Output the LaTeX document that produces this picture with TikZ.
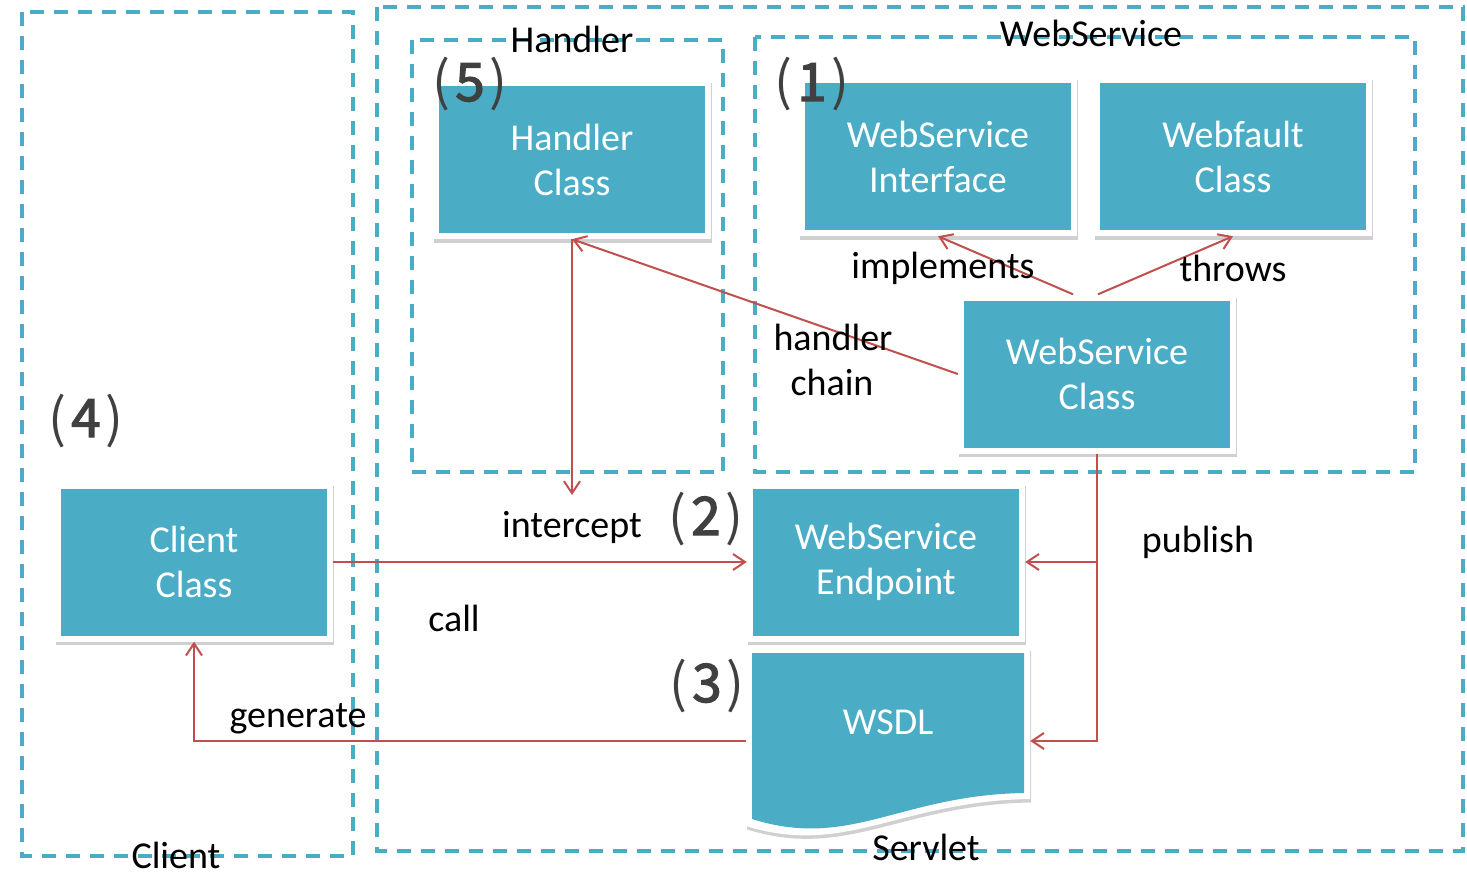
\documentclass[tikz,border=0pt]{standalone}
\usepackage{fontspec}
\setmainfont{Carlito}
\newfontfamily\cjkjp[FakeBold=2.5]{Noto Sans CJK JP}
\newfontfamily\cjkthin{Noto Sans CJK JP}
\usetikzlibrary{arrows.meta,shadows,calc}
\definecolor{teal4}{HTML}{4BACC6}
\definecolor{red4}{HTML}{C0504D}
\definecolor{numgray}{HTML}{404040}
\newcommand{\numtxt}[1]{{\cjkthin\fontsize{53}{53}\selectfont (}\hspace{5pt}{\cjkjp\fontsize{53}{53}\selectfont #1}\hspace{5pt}{\cjkthin\fontsize{53}{53}\selectfont )}}
\tikzset{
 frame/.style={draw=teal4, line width=3.5pt, dash pattern=on 14pt off 10pt},
 myshadow/.style={drop shadow={shadow xshift=1pt, shadow yshift=-3.5pt, opacity=0.3, fill=black!60}},
 box/.style={rectangle, fill=white, minimum width=278pt, minimum height=159pt, inner sep=0pt,
   text=white, align=center, font=\fontsize{38}{45}\selectfont, myshadow,
   path picture={\fill[teal4] ([shift={(6pt,6pt)}]path picture bounding box.south west) rectangle ([shift={(-6pt,-6pt)}]path picture bounding box.north east);}},
 lbl/.style={font=\fontsize{38}{45}\selectfont, text=black, anchor=base, inner sep=0pt},
 num/.style={text=numgray, anchor=base, inner sep=0pt},
 conn/.style={draw=red4, line width=2pt},
 arr/.style={conn, -{Straight Barb[length=12pt,width=16pt,line width=2pt]}}
}
\begin{document}
\begin{tikzpicture}[x=1pt,y=-1pt]
\useasboundingbox[fill=white] (0,0) rectangle (1467,888);
% frames
\draw[frame] (22,12) rectangle (353,856);
\draw[frame] (377,7) rectangle (1463,851);
\draw[frame] (412,40) rectangle (723,472);
\draw[frame] (755,37) rectangle (1415,472);
% frame labels
\node[lbl] (lclient) at (176,868) {Client};
\node[lbl] (lservlet) at (926,860) {Servlet};
\node[lbl] (lhandler) at (572,53) {Handler};
\node[lbl] (lws) at (1091,47) {WebService};
% boxes
\node[box] (hc) at (572,159.5) {Handler\\Class};
\node[box] (wsi) at (938,156.5) {WebService\\Interface};
\node[box] (wf) at (1233,156.5) {Webfault\\Class};
\node[box] (wsc) at (1097,374) {WebService\\Class};
\node[box] (ep) at (886,562) {WebService\\Endpoint};
\node[box] (cc) at (194,562) {Client\\Class};
% WSDL document shape
\path[fill=white, myshadow] (746,647) -- (1030,647) -- (1030,799) .. controls (900,801) and (846,857) .. (746,826) -- cycle;
\fill[teal4] (752,653) -- (1024,653) -- (1024,793) .. controls (900,795) and (850,850) .. (752,819) -- cycle;
\node[minimum width=284pt, minimum height=188pt, inner sep=0pt] (wsdl) at (888,741) {};
\node[text=white, font=\fontsize{38}{45}\selectfont, inner sep=0pt] (wsdltext) at (888,722) {WSDL};
% numbers
\node[num] (n5) at (470,101) {\numtxt{5}};
\node[num] (n1) at (812,101) {\numtxt{1}};
\node[num] (n4) at (86,437) {\numtxt{4}};
\node[num] (n2) at (706,535) {\numtxt{2}};
\node[num] (n3) at (707,702) {\numtxt{3}};
% connectors
\coordinate (icpt) at (572,495);
\draw[arr] ([xshift=-24pt]wsc.north) -- (wsi.south);
\draw[arr] ([xshift=1pt]wsc.north) -- (wf.south);
\draw[arr] (wsc.west) -- (hc.south);
\draw[arr] (hc.south) -- (icpt);
\draw[arr] (cc.east) -- (ep.west);
\draw[arr] (wsc.south) |- (wsdl.east);
\draw[arr] (wsc.south |- ep.east) -- (ep.east);
\draw[arr] (wsdl.west) -| (cc.south);
% connector labels
\node[lbl] (limpl) at (943,278) {implements};
\node[lbl] (lthrows) at (1233,281) {throws};
\node[lbl] (lhc1) at (833,350) {handler};
\node[lbl] (lhc2) at (832,395) {chain};
\node[lbl] (lint) at (572,537) {intercept};
\node[lbl] (lpub) at (1198,552) {publish};
\node[lbl] (lcall) at (454,631) {call};
\node[lbl] (lgen) at (298,727) {generate};
\end{tikzpicture}
\end{document}
